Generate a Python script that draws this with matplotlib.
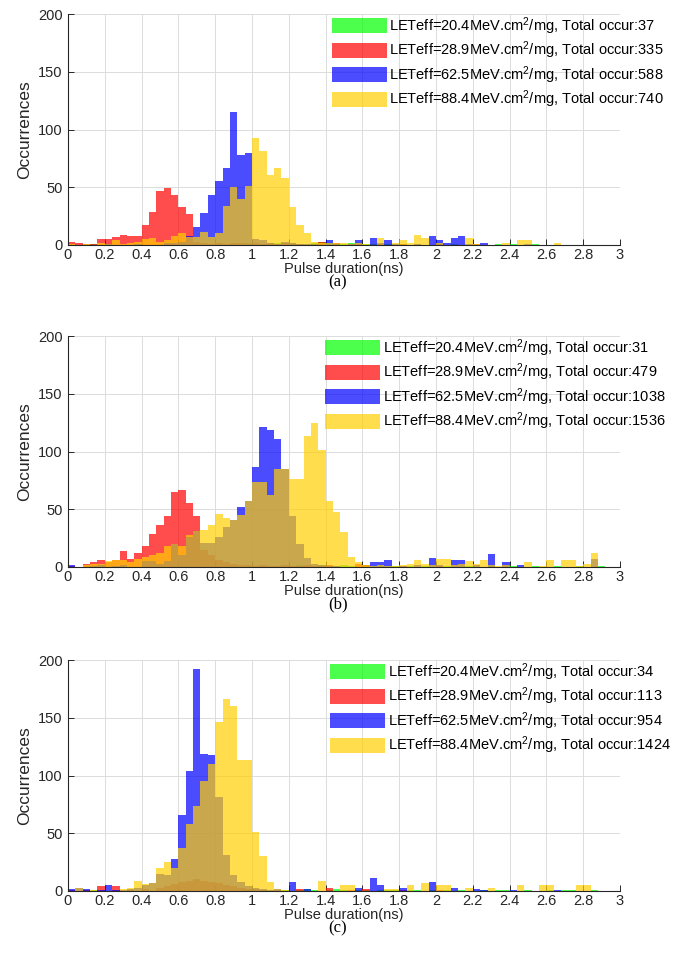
import numpy as np
import matplotlib
matplotlib.use('Agg')
import matplotlib.pyplot as plt
from matplotlib.patches import Patch

plt.rcParams['font.family'] = ['Liberation Sans', 'DejaVu Sans']
plt.rcParams['mathtext.fontset'] = 'custom'
plt.rcParams['mathtext.rm'] = 'Liberation Sans'
plt.rcParams['mathtext.default'] = 'regular'

# histogram bins, 0.04 ns wide
edges = np.linspace(0, 3, 76)

# panel (a)
green_a = [0,0,0,1,0,0,0,0,0,1,0,0,0,0,0,
           1,0,1,0,0,1,0,1,0,2,0,1,0,2,0,
           2,1,1,2,3,2,1,1,2,0,1,1,0,1,0,
           1,0,1,0,0,1,0,1,0,0,1,0,0,1,0,
           1,0,0,1,0,0,0,0,0,0,0,0,0,0,0]
red_a = [3,2,1,1,5,5,7,9,8,8,17,29,47,49,43,
         33,27,3,2,1,2,1,2,2,1,2,1,2,1,2,
         1,1,0,0,3,0,2,0,1,1,0,0,1,0,0,
         1,0,0,0,0,1,0,0,0,0,1,0,0,0,0,
         0,0,0,0,0,0,0,0,0,0,0,0,0,0,0]
blue_a = [0,0,0,0,0,1,0,0,0,1,0,0,0,2,2,
          3,8,16,28,43,55,67,115,78,80,5,4,2,1,3,
          2,1,1,1,0,4,1,0,1,4,0,6,2,4,1,
          0,0,1,0,8,4,2,6,8,1,0,2,0,0,0,
          0,0,1,0,0,0,0,0,0,0,0,0,0,0,0]
yellow_a = [1,0,1,0,2,1,4,1,2,3,5,6,3,4,8,
            10,7,7,11,7,10,34,50,40,51,93,81,61,67,58,
            33,17,10,3,2,2,2,2,1,2,1,0,6,0,2,
            4,2,9,6,0,2,0,0,0,6,1,0,0,0,2,
            0,4,4,0,0,0,2,0,0,0,0,0,0,0,0]

# panel (b)
green_b = [0,0,1,0,0,0,0,0,0,0,0,0,1,0,0,
           0,1,0,0,0,0,0,1,0,0,1,0,0,1,0,
           1,2,1,0,2,1,1,2,1,0,2,0,1,0,1,
           0,1,0,1,0,0,1,0,0,1,0,0,1,0,0,
           1,0,0,1,0,0,1,0,0,1,0,0,1,0,0]
red_b = [1,0,3,4,6,4,6,14,7,12,18,29,36,44,65,
         67,55,44,15,10,6,4,3,2,2,1,2,1,1,2,
         1,1,2,1,1,2,0,0,0,3,2,0,0,0,0,
         1,0,0,0,0,1,0,0,0,0,0,0,0,0,0,
         0,0,0,0,0,0,0,0,0,0,0,0,0,0,0]
blue_b = [2,0,0,1,2,0,1,2,0,0,5,5,3,5,20,
          10,26,31,21,21,26,35,41,52,57,87,121,119,111,85,
          44,20,8,3,2,1,1,0,0,0,0,4,4,6,0,
          1,0,2,0,8,2,0,6,6,0,2,0,11,0,4,
          0,2,0,0,0,0,0,0,0,0,0,7,0,0,0]
yellow_b = [0,0,2,3,3,5,6,6,4,7,9,10,12,18,20,
            18,28,31,32,36,46,42,41,45,57,74,74,62,85,85,
            76,76,113,125,101,57,48,30,9,4,2,1,2,1,1,
            2,3,6,3,2,7,7,2,3,5,3,6,2,1,2,
            0,0,4,0,1,6,0,6,6,1,3,12,0,0,0]

# panel (c)
green_c = [0,0,0,1,0,0,0,0,1,0,0,0,0,0,0,
           1,0,0,0,1,0,0,0,0,1,0,1,1,0,1,
           0,1,2,1,0,1,2,1,0,1,1,0,1,1,1,
           0,1,1,0,1,0,1,0,1,0,0,1,0,1,1,
           0,0,1,0,0,1,0,1,1,0,0,1,0,0,0]
red_c = [1,0,1,0,4,0,4,0,1,0,2,0,3,4,6,
         8,9,10,9,8,7,5,4,3,2,2,1,0,1,0,
         0,2,0,0,0,3,0,0,1,0,2,0,0,0,0,
         1,0,0,0,0,1,0,0,0,0,0,0,0,0,0,
         0,0,0,0,0,0,0,0,0,0,0,0,0,0,0]
blue_c = [2,3,2,0,1,5,1,1,2,3,5,7,15,14,28,
          66,104,192,119,118,81,31,14,8,4,3,2,1,2,0,
          8,0,2,0,0,0,0,0,0,3,0,11,5,0,0,
          3,0,0,0,8,0,0,3,0,0,2,1,0,0,0,
          1,0,0,0,0,0,1,0,0,0,0,0,0,0,0]
yellow_c = [0,3,0,1,0,0,0,2,3,9,6,7,20,25,20,
            37,58,74,95,110,146,166,160,113,113,51,30,8,2,1,
            0,0,0,0,9,0,0,5,5,0,0,0,0,2,2,
            0,5,0,7,0,5,5,0,0,3,0,0,3,0,0,
            0,5,0,0,5,5,0,0,0,5,5,0,0,0,0]

let_values = ['20.4', '28.9', '62.5', '88.4']
totals_a = [37, 335, 588, 740]
totals_b = [31, 479, 1038, 1536]
totals_c = [34, 113, 954, 1424]

colors = [(0, 1, 0), (1, 0, 0), (0, 0, 1), (1, 0.81, 0)]
alpha = 0.7

panels = [
    ([green_a, red_a, blue_a, yellow_a], totals_a, '(a)', 245, 0.478),
    ([green_b, red_b, blue_b, yellow_b], totals_b, '(b)', 567, 0.466),
    ([green_c, red_c, blue_c, yellow_c], totals_c, '(c)', 891, 0.475),
]

W, H = 685, 973
fig = plt.figure(figsize=(W / 100, H / 100), dpi=100)
centers = (edges[:-1] + edges[1:]) / 2
txt = '#262626'

for series, totals, tag, ybot, legx in panels:
    ax = fig.add_axes([68 / W, 1 - ybot / H, 552 / W, 231 / H])
    for counts, c in zip(series, colors):
        ax.hist(centers, bins=edges, weights=counts, color=c, alpha=alpha,
                edgecolor='none', linewidth=0)
    ax.set_xlim(0, 3)
    ax.set_ylim(0, 200)
    ax.set_xticks(np.arange(0, 3.01, 0.2))
    ax.set_xticklabels(['0'] + ['%g' % v for v in np.arange(0.2, 3.01, 0.2)])
    ax.set_yticks([0, 50, 100, 150, 200])
    ax.grid(True, color='#dcdcdc', linewidth=0.7)
    ax.set_axisbelow(True)
    for s in ['top', 'right']:
        ax.spines[s].set_visible(False)
    for s in ['left', 'bottom']:
        ax.spines[s].set_color(txt)
        ax.spines[s].set_linewidth(0.8)
    ax.tick_params(direction='in', length=4, width=0.7, colors=txt,
                   labelsize=10.5)
    ax.tick_params(axis='x', pad=2)
    ax.tick_params(axis='y', pad=4)
    ax.set_xlabel('Pulse duration(ns)', fontsize=10.5, color=txt, labelpad=0)
    ax.set_ylabel('Occurrences', fontsize=12.5, color=txt, labelpad=4)

    handles = [Patch(facecolor=c, alpha=alpha, edgecolor='none') for c in colors]
    labels = ['LETeff=%sMeV.cm$^{2}$/mg, Total occur:%d' % (v, t)
              for v, t in zip(let_values, totals)]
    ax.legend(handles, labels, loc='upper left', bbox_to_anchor=(legx, 0.995),
              frameon=False, fontsize=10.5, handlelength=3.75, handleheight=1.2,
              handletextpad=0.2, labelspacing=0.2, borderpad=0,
              borderaxespad=0)

    fig.text(338 / W, 1 - (ybot + 37.5) / H, tag, ha='center', va='center',
             fontsize=12, family='Liberation Serif')

fig.savefig('out.png', dpi=100)
